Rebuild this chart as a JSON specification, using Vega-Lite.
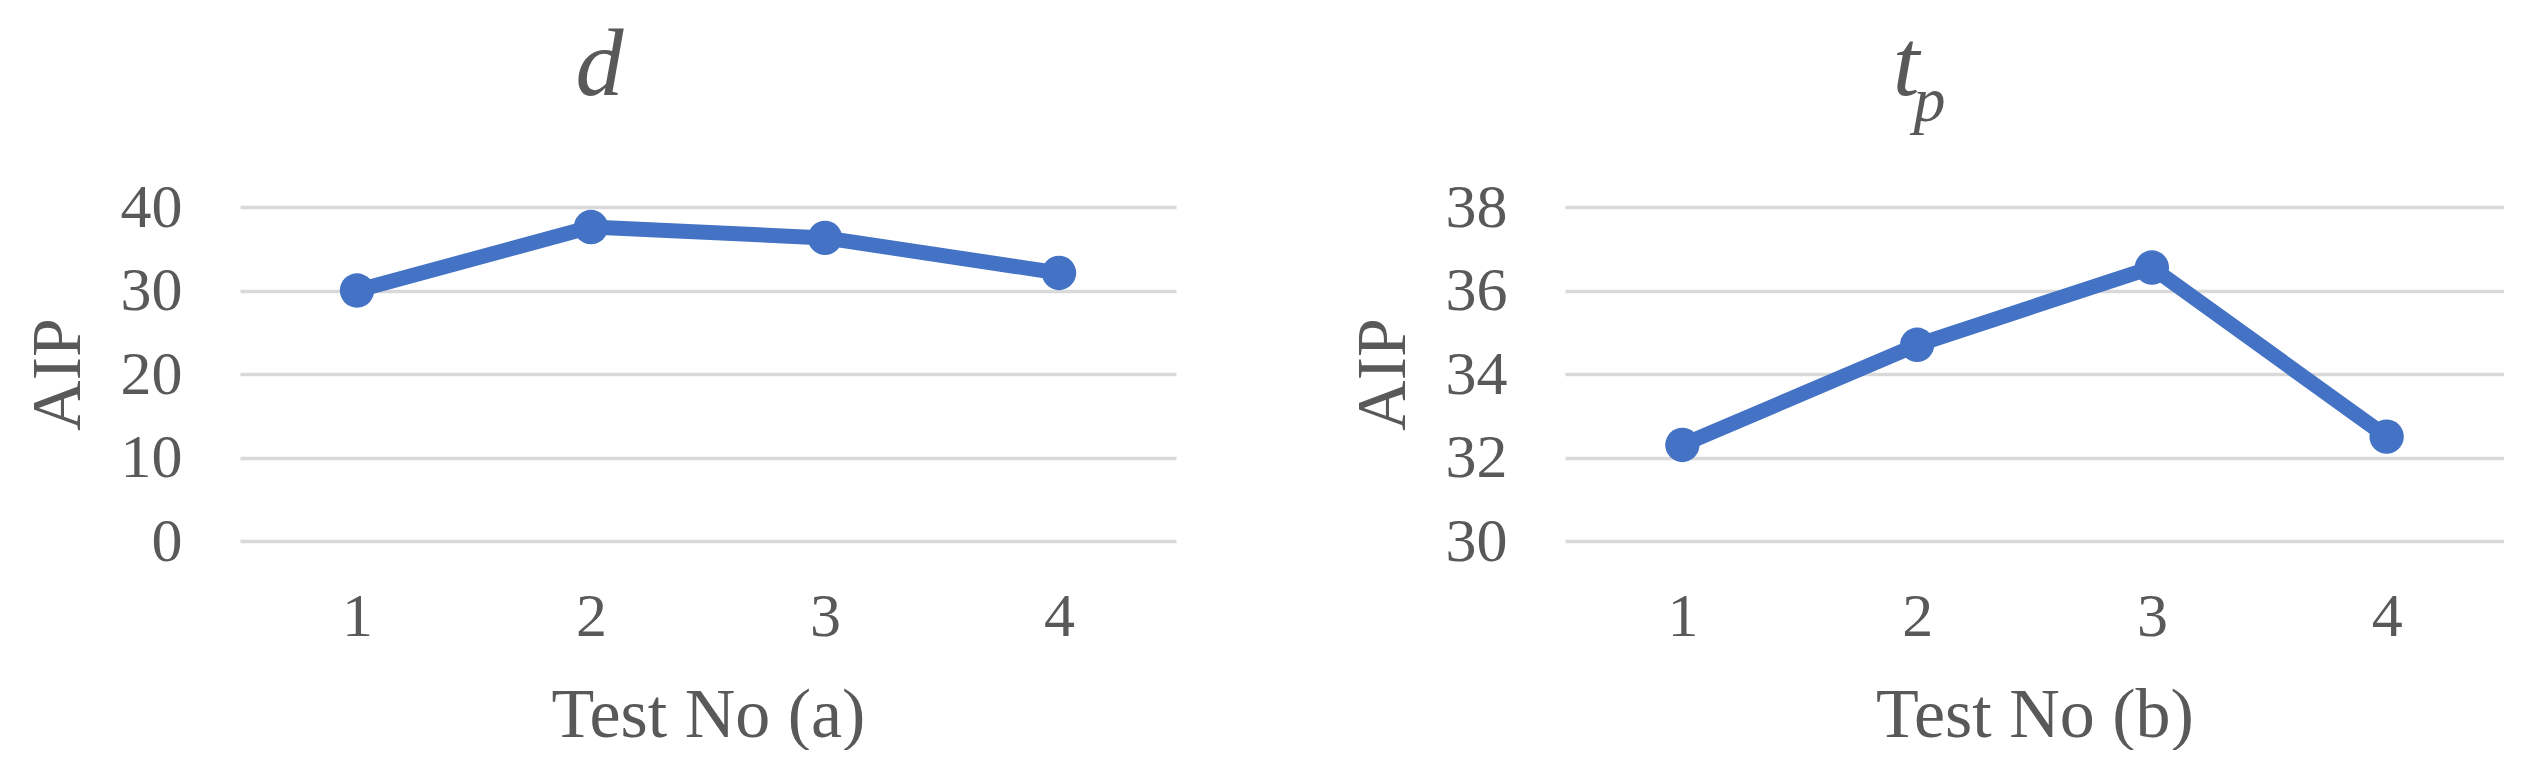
{
  "$schema": "https://vega.github.io/schema/vega-lite/v6.json",
  "padding": {"left": 23, "top": 18, "right": 0, "bottom": 0},
  "background": "white",
  "spacing": 172,
  "config": {
    "view": {"stroke": null},
    "font": "Liberation Serif",
    "axis": {
      "labelFont": "Liberation Serif", "labelFontSize": 62, "labelColor": "#595959",
      "titleFont": "Liberation Serif", "titleFontSize": 70, "titleColor": "#595959", "titleFontWeight": "normal",
      "domain": false, "ticks": false, "gridColor": "#D9D9D9", "gridWidth": 3.5
    }
  },
  "hconcat": [
    {
      "width": 936, "height": 334,
      "title": {"text": "d", "font": "Liberation Serif", "fontStyle": "italic", "fontSize": 96, "fontWeight": "normal", "color": "#595959", "frame": "bounds", "anchor": "middle", "offset": 61},
      "data": {"values": [
        {"test": 1, "AIP": 30.0},
        {"test": 2, "AIP": 37.6},
        {"test": 3, "AIP": 36.3},
        {"test": 4, "AIP": 32.1}
      ]},
      "encoding": {
        "x": {"field": "test", "type": "ordinal", "axis": {"title": "Test No (a)", "labelAngle": 0, "labelPadding": 45, "titlePadding": 34, "grid": false}},
        "y": {"field": "AIP", "type": "quantitative", "scale": {"domain": [0, 40], "nice": false, "zero": false}, "axis": {"title": "AIP", "values": [0, 10, 20, 30, 40], "labelPadding": 58, "titlePadding": 26, "grid": true}}
      },
      "layer": [
        {"mark": {"type": "line", "color": "#4472C4", "strokeWidth": 15, "strokeCap": "round", "strokeJoin": "round"}},
        {"mark": {"type": "point", "filled": true, "opacity": 1, "size": 1180, "color": "#4472C4"}}
      ]
    },
    {
      "width": 939, "height": 334,
      "title": {"text": "t", "subtitle": "\u2800p", "dx": -20, "font": "Liberation Serif", "fontStyle": "italic", "fontSize": 96, "fontWeight": "normal", "color": "#595959", "subtitleFont": "Liberation Serif", "subtitleFontStyle": "italic", "subtitleFontSize": 64, "subtitleColor": "#595959", "subtitlePadding": -45, "frame": "bounds", "anchor": "middle", "offset": 41},
      "data": {"values": [
        {"test": 1, "AIP": 32.3},
        {"test": 2, "AIP": 34.7},
        {"test": 3, "AIP": 36.55},
        {"test": 4, "AIP": 32.5}
      ]},
      "encoding": {
        "x": {"field": "test", "type": "ordinal", "axis": {"title": "Test No (b)", "labelAngle": 0, "labelPadding": 45, "titlePadding": 34, "grid": false}},
        "y": {"field": "AIP", "type": "quantitative", "scale": {"domain": [30, 38], "nice": false, "zero": false}, "axis": {"title": "AIP", "values": [30, 32, 34, 36, 38], "labelPadding": 58, "titlePadding": 26, "grid": true}}
      },
      "layer": [
        {"mark": {"type": "line", "color": "#4472C4", "strokeWidth": 15, "strokeCap": "round", "strokeJoin": "round"}},
        {"mark": {"type": "point", "filled": true, "opacity": 1, "size": 1180, "color": "#4472C4"}}
      ]
    }
  ]
}
